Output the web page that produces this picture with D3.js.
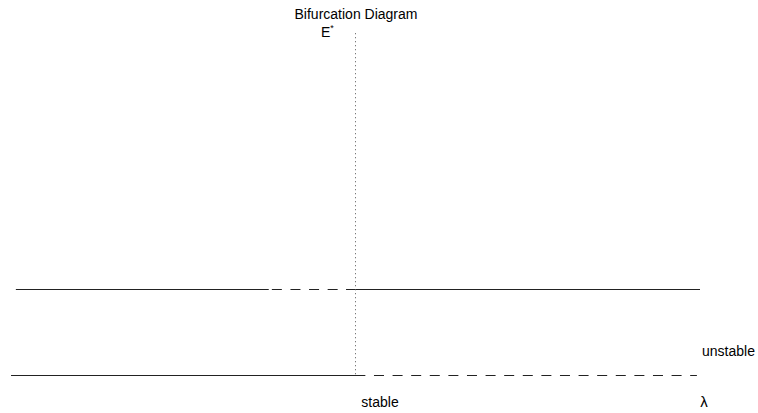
<!DOCTYPE html>
<html>
<head>
<meta charset="utf-8">
<script src="https://cdn.jsdelivr.net/npm/d3@7"></script>
<style>
  body { margin: 0; background: #fff; }
  text { font-family: "Liberation Sans", Arial, sans-serif; font-size: 14px; fill: #000; }
</style>
</head>
<body>
<div id="chart"></div>
<script>
// branch segments: equilibrium E*, lambda range, stability
const upperBranch = [
  {e: 1, from: 0.017, to: 0.75,  kind: "stable"},
  {e: 1, from: 0.759, to: 0.951, kind: "unstable"},
  {e: 1, from: 0.974, to: 2.0,   kind: "stable"}
]
const lowerBranch = [
  {e: 0, from: 0.003, to: 1.03,  kind: "stable"},
  {e: 0, from: 1.055, to: 1.991, kind: "unstable"}
]
const lambdaCritical = 1.0
const eTop = 3.98

const width = 758, height = 413

const svg = d3.select("#chart")
  .append("svg")
    .attr("width", width)
    .attr("height", height)

const xScale = d3.scaleLinear().domain([0, 2]).range([10, 700]),
      yScale = d3.scaleLinear().domain([0, 4]).range([375.5, 31.5])

const segments = upperBranch.concat(lowerBranch)

svg.selectAll("line.branch")
  .data(segments)
  .enter()
  .append("line")
  .attr("class", "branch")
  .attr("x1", d => xScale(d.from))
  .attr("x2", d => xScale(d.to))
  .attr("y1", d => yScale(d.e))
  .attr("y2", d => yScale(d.e))
  .attr("stroke", "#222")
  .attr("stroke-width", 1.1)
  .attr("stroke-dasharray", d => d.kind == "unstable" ? "10,8.6" : null)

// critical lambda
svg.append("line")
  .attr("x1", xScale(lambdaCritical) + 0.5)
  .attr("x2", xScale(lambdaCritical) + 0.5)
  .attr("y1", yScale(eTop))
  .attr("y2", yScale(0))
  .attr("stroke", "#555")
  .attr("stroke-width", 1)
  .attr("stroke-dasharray", "1,3")

svg.append("text")
  .attr("x", 356).attr("y", 19)
  .attr("text-anchor", "middle")
  .text("Bifurcation Diagram")

const eLabel = svg.append("text")
  .attr("x", 321).attr("y", 37)
eLabel.append("tspan").text("E")
eLabel.append("tspan").attr("dy", -6).style("font-size", "9px").text("*")

svg.append("text")
  .attr("x", 702).attr("y", 356)
  .text("unstable")

svg.append("text")
  .attr("x", 380).attr("y", 407)
  .attr("text-anchor", "middle")
  .text("stable")

svg.append("text")
  .attr("x", 704).attr("y", 407)
  .attr("text-anchor", "middle")
  .style("font-size", "15px")
  .text("λ")
</script>
</body>
</html>
